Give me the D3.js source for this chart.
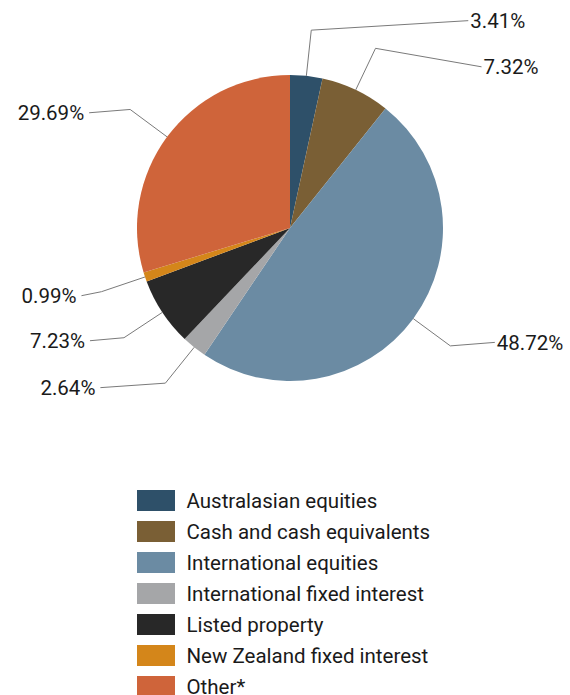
<!DOCTYPE html>
<html>
<head>
<meta charset="utf-8">
<script src="https://cdn.jsdelivr.net/npm/d3@7"></script>
<style>
  html, body { margin: 0; padding: 0; background: #fff; }
  svg text { font-family: Roboto, "Liberation Sans", sans-serif; fill: #1a1a1a; }
</style>
</head>
<body>
<svg id="chart" width="570" height="695"></svg>
<script>
// ---- data ----
const categories = [
  "Australasian equities",
  "Cash and cash equivalents",
  "International equities",
  "International fixed interest",
  "Listed property",
  "New Zealand fixed interest",
  "Other*"
];
const values = [3.41, 7.32, 48.72, 2.64, 7.23, 0.99, 29.69];
const valueLabels = ["3.41%", "7.32%", "48.72%", "2.64%", "7.23%", "0.99%", "29.69%"];
const colors = ["#2e5069", "#7a5f35", "#6b8ba3", "#a5a6a8", "#282828", "#d4861a", "#cf643a"];

// ---- layout (label leader-line end offsets from the elbow) ----
const labelOffsets = [[157, -9.5], [106, 18.5], [44.5, -3.5], [-65, 4.5], [-34, 3], [-20, 4], [-41, 3.3]];

const svg = d3.select("#chart");
const cx = 290, cy = 228, r = 153, elbowR = 199;

const pie = d3.pie().sort(null).value(d => d)(values);
const arc = d3.arc().innerRadius(0).outerRadius(r);

const g = svg.append("g").attr("transform", `translate(${cx},${cy})`);
g.selectAll("path.slice").data(pie).enter().append("path")
  .attr("class", "slice")
  .attr("d", arc)
  .attr("fill", (d, i) => colors[i]);

// leader lines and labels
pie.forEach((d, i) => {
  const a = (d.startAngle + d.endAngle) / 2;
  const p0 = [r * Math.sin(a), -r * Math.cos(a)];
  const p1 = [elbowR * Math.sin(a), -elbowR * Math.cos(a)];
  const p2 = [p1[0] + labelOffsets[i][0], p1[1] + labelOffsets[i][1]];
  const right = labelOffsets[i][0] > 0;
  g.append("polyline")
    .attr("points", [p0, p1, p2].map(p => p.join(",")).join(" "))
    .attr("fill", "none")
    .attr("stroke", "#7a7a7a")
    .attr("stroke-width", 1);
  g.append("text")
    .attr("x", p2[0] + (right ? 2 : -5))
    .attr("y", p2[1])
    .attr("dy", "0.36em")
    .attr("text-anchor", right ? "start" : "end")
    .attr("font-size", 20.5)
    .text(valueLabels[i]);
});

// legend
const legend = svg.append("g").attr("transform", "translate(137,490)");
const rows = legend.selectAll("g").data(categories).enter().append("g")
  .attr("transform", (d, i) => `translate(0,${i * 31})`);
rows.append("rect")
  .attr("width", 38).attr("height", 21)
  .attr("fill", (d, i) => colors[i]);
rows.append("text")
  .attr("x", 49.5).attr("y", 10.5).attr("dy", "0.36em")
  .attr("font-size", 20.5)
  .text(d => d);
</script>
</body>
</html>
